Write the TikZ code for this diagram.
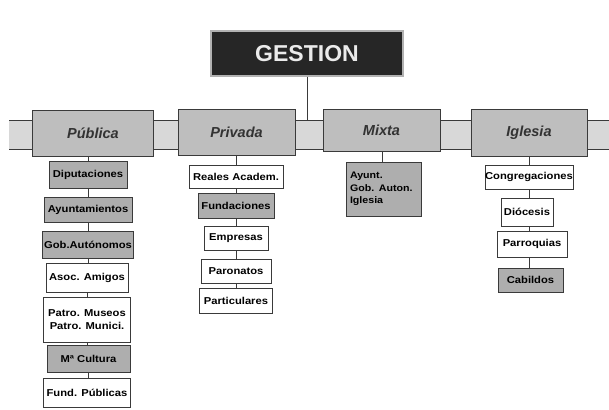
\documentclass[tikz,border=0pt]{standalone}
\usepackage{fontspec}
\setmainfont{Liberation Sans}
\newfontfamily\widefont[FakeStretch=1.12]{Liberation Sans}
\definecolor{bandfill}{HTML}{D8D8D8}
\definecolor{catfill}{HTML}{BEBEBE}
\definecolor{gfill}{HTML}{AEAEAE}
\definecolor{edge}{HTML}{3A3A3A}
\definecolor{gestfill}{HTML}{262626}
\begin{document}
\begin{tikzpicture}[x=1pt,y=-1pt,
  catbox/.style={draw=edge, line width=1, fill=catfill, inner sep=0pt,
    font=\bfseries\itshape\fontsize{14.5}{16}\selectfont, text=black!80},
  wbox/.style={draw=edge, line width=0.9, fill=white, inner sep=0pt, align=center,
    font=\widefont\bfseries\fontsize{10}{12.5}\selectfont, text=black},
  gbox/.style={wbox, fill=gfill},
  conn/.style={draw=edge, line width=0.9}]
\useasboundingbox (0,0) rectangle (609,409);
\fill[white] (0,0) rectangle (609,409);
% band
\coordinate (btl) at (9,120);
\coordinate (bbr) at (609,149);
\fill[bandfill] (btl) rectangle (bbr);
\draw[conn] (btl) -- (btl -| bbr);
\draw[conn] (btl |- bbr) -- (bbr);
% title
\node[draw=gray!60, line width=1.5, fill=gestfill, minimum width=192, minimum height=45, inner sep=0pt,
  text=white!92!black, font=\bfseries\fontsize{23}{26}\selectfont] (gest) at (307,53.5) {GESTION};
\draw[conn] (gest.south) -- (gest.south |- btl);
% categories
\node[catbox, minimum width=121, minimum height=46] (pub) at (93,133) {Pública};
\node[catbox, minimum width=117, minimum height=46] (pri) at (236.5,132) {Privada};
\node[catbox, minimum width=117, minimum height=42] (mix) at (381.5,130) {Mixta};
\node[catbox, minimum width=116, minimum height=47] (igl) at (529,133) {Iglesia};
% Publica column
\node[gbox, minimum width=78, minimum height=27] (dip) at (88,174.5) {Diputaciones};
\node[gbox, minimum width=88, minimum height=25] (ayu) at (88,209.5) {Ayuntamientos};
\node[gbox, minimum width=91, minimum height=27] (gob) at (88,244.5) {Gob.Autónomos};
\node[wbox, minimum width=82, minimum height=29] (aso) at (87,277.5) {Asoc. Amigos};
\node[wbox, minimum width=87, minimum height=45] (pat) at (87,319.5) {Patro. Museos\\Patro. Munici.};
\node[gbox, minimum width=83, minimum height=27] (mcu) at (88.5,358.5) {Mª Cultura};
\node[wbox, minimum width=87, minimum height=29] (fun) at (87,392.5) {Fund. Públicas};
\draw[conn] (dip.north |- pub.south) -- (dip.north);
\draw[conn] (dip) -- (ayu);
\draw[conn] (ayu) -- (gob);
\draw[conn] (gob.south) -- (gob.south |- aso.north);
\draw[conn] (aso) -- (pat);
\draw[conn] (pat.south) -- (pat.south |- mcu.north);
\draw[conn] (mcu.south) -- (mcu.south |- fun.north);
% Privada column
\node[wbox, minimum width=94, minimum height=23] (rea) at (236,176.5) {Reales Academ.};
\node[gbox, minimum width=76, minimum height=25] (fnd) at (236,205.5) {Fundaciones};
\node[wbox, minimum width=64, minimum height=24] (emp) at (236,238) {Empresas};
\node[wbox, minimum width=70, minimum height=24] (par) at (236,271) {Paronatos};
\node[wbox, minimum width=73, minimum height=25] (prt) at (236,300.5) {Particulares};
\draw[conn] (rea.north |- pri.south) -- (rea.north);
\draw[conn] (rea) -- (fnd);
\draw[conn] (fnd) -- (emp);
\draw[conn] (emp) -- (par);
\draw[conn] (par) -- (prt);
% Mixta column
\node[gbox, minimum width=75, minimum height=54, align=left, text width=67,
  font=\widefont\bfseries\fontsize{9.5}{12.5}\selectfont] (ayg) at (383.5,189) {Ayunt.\\Gob. Auton.\\Iglesia};
\draw[conn] (mix.south -| 382,0) -- (ayg.north -| 382,0);
% Iglesia column
\node[wbox, minimum width=88, minimum height=24] (con) at (529,177) {Congregaciones};
\node[wbox, minimum width=52, minimum height=28] (dio) at (527,212) {Diócesis};
\node[wbox, minimum width=70, minimum height=26] (prq) at (532,244) {Parroquias};
\node[gbox, minimum width=65, minimum height=24] (cab) at (530.5,280) {Cabildos};
\draw[conn] (con.north |- igl.south) -- (con.north);
\draw[conn] (con.south) -- (con.south |- dio.north);
\draw[conn] (dio.south -| con.south) -- (prq.north -| con.south);
\draw[conn] (prq.south -| con.south) -- (cab.north -| con.south);
\end{tikzpicture}
\end{document}
